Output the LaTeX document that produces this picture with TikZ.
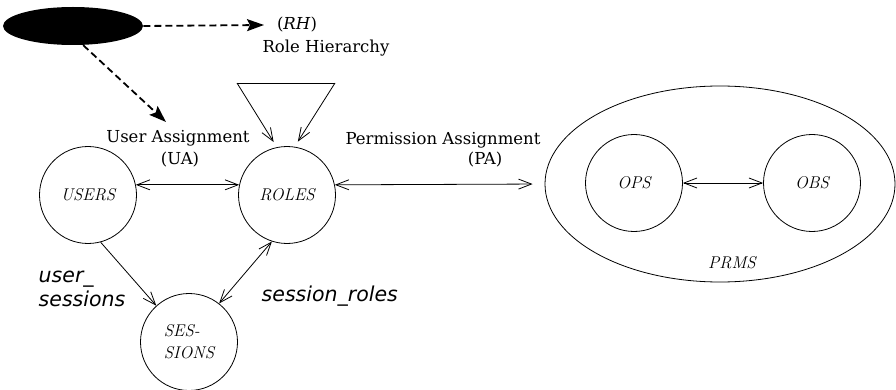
\documentclass[tikz,border=0pt]{standalone}
\usepackage{fontspec}
\usepackage{tikz}
\usetikzlibrary{shapes,arrows.meta}
\newfontfamily\serifsf{DejaVu Serif}
\newfontfamily\obliquesf{DejaVu Sans}

\begin{document}
\begin{tikzpicture}[x=1pt,y=-1pt,line width=0.8pt,
            >={Straight Barb[length=13pt,width=10pt]},
            set/.style={circle,draw,minimum size=97pt,inner sep=0pt,font=\fontsize{17}{19}\selectfont\itshape},
            blob/.style={ellipse,fill=black,minimum width=140pt,minimum height=38pt},
            rel/.style={font=\serifsf\fontsize{16.5}{18}\selectfont},
            tag/.style={font=\obliquesf\itshape\fontsize{20.5}{24}\selectfont},
            hint/.style={line width=1.8pt,dash pattern=on 7pt off 4pt,-{Stealth[length=17pt,width=12pt,inset=3pt]}}]
            \useasboundingbox (0,0) rectangle (896,390);
            % hierarchy source
            \node[blob] (source) at (73,26) {};
            \node[rel] (rhtag) at (297,25) {(\textit{RH})};
            \node[rel] (rhname) at (326,48) {Role Hierarchy};
            \coordinate (rhtip) at (264,25);
            \coordinate (uatip) at (166,122);
            % sets
            \node[set] (users) at (88,195) {USERS};
            \node[set] (roles) at (287,195) {ROLES};
            \node[set,align=left] (sessions) at (189,342) {SES-\\[3pt]SIONS};
            \node[ellipse,draw,minimum width=350pt,minimum height=196pt] (prms) at (720,184) {};
            \node[set] (ops) at (634,183) {OPS};
            \node[set] (obs) at (812,183) {OBS};
            \node[font=\fontsize{17}{19}\selectfont\itshape] (prmsname) at (732,263) {PRMS};
            % relation labels
            \node[rel] (uaname) at (178,138) {User Assignment};
            \node[rel] (uatag) at (180,160) {(UA)};
            \node[rel] (paname) at (443,140) {Permission Assignment};
            \node[rel] (patag) at (485,160) {(PA)};
            \node[tag,align=left,anchor=west] (usname) at (35,289) {user\_\\sessions};
            \node[tag,anchor=west] (srname) at (258,296) {session\_roles};
            % role hierarchy loop
            \coordinate (rhleft) at (237,83);
            \coordinate (rhright) at (335,83);
            \draw (rhleft) -- (rhright);
            \draw[->,shorten >=6pt] (rhleft) -- (roles.102);
            \draw[->,shorten >=6pt] (rhright) -- (roles.81);
            % connectors
            \draw[hint] (source.east) -- (rhtip);
            \draw[hint] (source.-62) -- (uatip);
            \draw[<->] (users.12) -- (roles.168);
            \draw[<->,shorten >=12pt] (roles.12) -- (prms.west);
            \draw[<->] (ops) -- (obs);
            \draw[->] (users.-75) -- (sessions.132);
            \draw[<->] (sessions.52) -- (roles.-108);
\end{tikzpicture}
\end{document}
